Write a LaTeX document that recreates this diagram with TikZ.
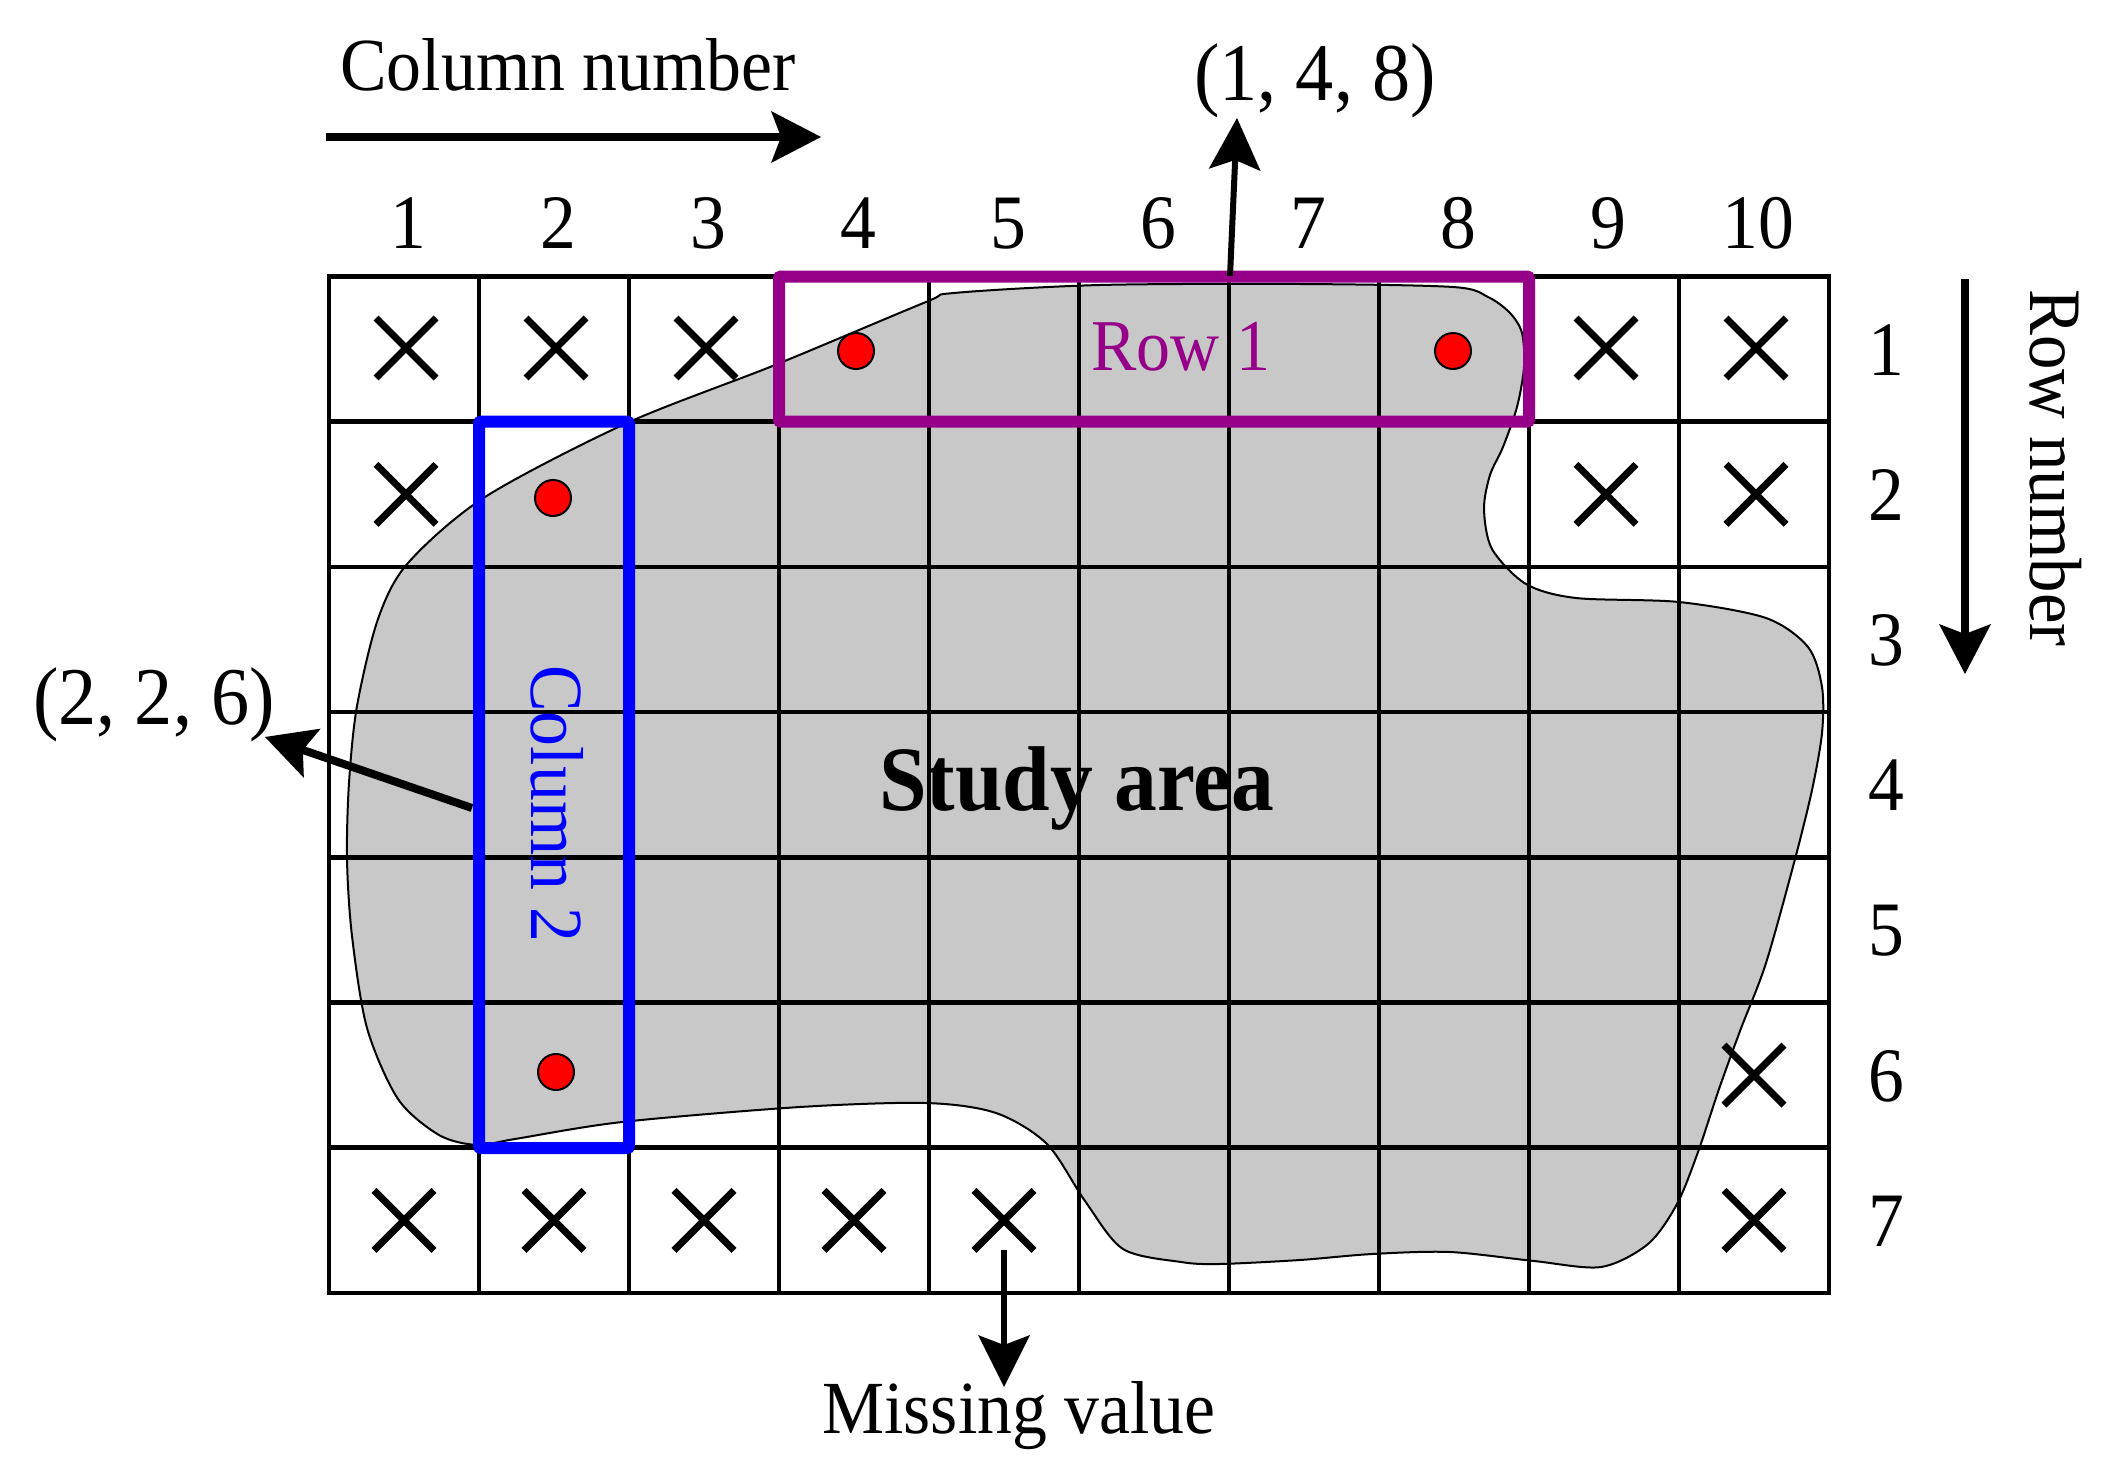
\documentclass[tikz,border=0pt]{standalone}
\usepackage{fontspec}
\setmainfont{Liberation Serif}[FakeStretch=0.93]
\usetikzlibrary{arrows.meta,shapes.misc}
\definecolor{rowpurple}{RGB}{150,0,136}
\definecolor{colblue}{RGB}{0,0,255}
\definecolor{areagray}{RGB}{200,200,200}
\definecolor{dotred}{RGB}{255,0,0}
\begin{document}
\begin{tikzpicture}[x=1pt,y=-1pt,
  gridline/.style={line width=4.5pt, line cap=rect},
  lbl/.style={font=\fontsize{77}{84}\selectfont, inner sep=0pt, anchor=base},
  xm/.style={cross out, draw, line width=7pt, minimum size=53pt, inner sep=0pt},
  reddot/.style={circle, draw, fill=dotred, line width=2pt, minimum size=36pt, inner sep=0pt},
  bigarrow/.style={line width=8pt, -{Stealth[length=50pt,width=52pt,inset=10pt,line width=0pt]}},
  midarrow/.style={line width=6pt, -{Stealth[length=52pt,width=52pt,inset=10pt,line width=0pt]}},
  selbox/.style={draw, line width=12pt, rounded corners=2pt, inner sep=0pt}
]
\useasboundingbox (0,0) rectangle (2110,1472);
\fill[white] (0,0) rectangle (2110,1472);

% study area
\draw[fill=areagray, line width=2pt] plot[smooth cycle, tension=0.5] coordinates {
(954,293) (1100,285) (1300,284) (1453,287) (1488,297) (1510,313) (1522,333) (1524,367)
(1517,407) (1503,447) (1490,475) (1484,509) (1492,549) (1526,584) (1576,598)
(1679,602) (1766,618) (1808,647) (1822,687) (1822,733) (1812,790) (1795,859)
(1766,963) (1740,1031) (1719,1089) (1698,1152) (1677,1204) (1648,1244) (1601,1267)
(1534,1261) (1450,1252) (1372,1254) (1300,1260) (1219,1264) (1181,1262) (1123,1249)
(1085,1201) (1047,1144) (996,1113) (926,1103) (800,1107) (622,1122) (515,1139)
(477,1145) (439,1135) (398,1099) (367,1028) (352,936) (347,859) (349,783) (357,706)
(378,619) (408,563) (485,497) (627,423) (775,365) (926,302)};

% grid
\foreach \i in {0,...,10} \draw[gridline] (329+150*\i,276.5) -- (329+150*\i,1293);
\foreach \j in {0,...,7} \draw[gridline] (329,276.5+145.2*\j) -- (1829,276.5+145.2*\j);

% selection boxes
\node[selbox, draw=rowpurple, minimum width=750pt, minimum height=145.2pt] (row1box) at (1154,349.1) {};
\node[selbox, draw=colblue, minimum width=150pt, minimum height=726.3pt] (col2box) at (554,784.85) {};

% missing values
\foreach \c in {1,2,3,9,10} \node[xm] (x1\c) at (256+150*\c,348) {};
\foreach \c in {1,9,10} \node[xm] (x2\c) at (256+150*\c,494.3) {};
\node[xm] (x610) at (1754,1075.1) {};
\foreach \c in {1,2,3,4,5,10} \node[xm] (x7\c) at (254+150*\c,1220.3) {};

% sample points
\node[reddot] (d14) at (856,351) {};
\node[reddot] (d18) at (1453,351) {};
\node[reddot] (d22) at (553,498) {};
\node[reddot] (d62) at (556,1072) {};

% column and row numbers
\foreach \c in {1,...,10} \node[lbl] (cn\c) at (254+150*\c+4,248) {\c};
\foreach \r in {1,...,7} \node[lbl] (rn\r) at (1886,203.9+145.2*\r+26) {\r};

% titles
\node[lbl, font=\fontsize{75}{80}\selectfont] (coltitle) at (568,90) {Column number};
\coordinate (colarrS) at (326,137);
\coordinate (colarrE) at (821,137);
\draw[bigarrow] (colarrS) -- (colarrE);

\node[lbl, rotate=-90, anchor=center, font=\fontsize{74}{80}\selectfont] (rowtitle) at (2056,468) {Row number};
\coordinate (rowarrS) at (1965,279);
\coordinate (rowarrE) at (1965,674);
\draw[bigarrow] (rowarrS) -- (rowarrE);

% labels in boxes
\node[lbl, text=rowpurple, font=\fontsize{73}{80}\selectfont] (row1lbl) at (1181,370) {Row 1};
\node[lbl, text=colblue, rotate=-90, anchor=center, font=\fontsize{75}{80}\selectfont] (col2lbl) at (557,804) {Column 2};

\node[lbl, font=\fontsize{92}{98}\selectfont\bfseries] (study) at (1077,810) {Study area};

% coordinate labels
\node[lbl, font=\fontsize{82}{88}\selectfont] (l148) at (1315,100) {(1, 4, 8)};
\coordinate (a148S) at (1230,276);
\coordinate (a148E) at (1237,118);
\draw[midarrow] (a148S) -- (a148E);

\node[lbl, font=\fontsize{82}{88}\selectfont] (l226) at (154,724) {(2, 2, 6)};
\coordinate (a226S) at (472,808);
\coordinate (a226E) at (265,737);
\draw[bigarrow] (a226S) -- (a226E);

\node[lbl, font=\fontsize{75}{80}\selectfont] (mv) at (1019,1433) {Missing value};
\coordinate (mvE) at (1004,1387);
\draw[midarrow] (x75.south) -- (mvE);
\end{tikzpicture}
\end{document}
